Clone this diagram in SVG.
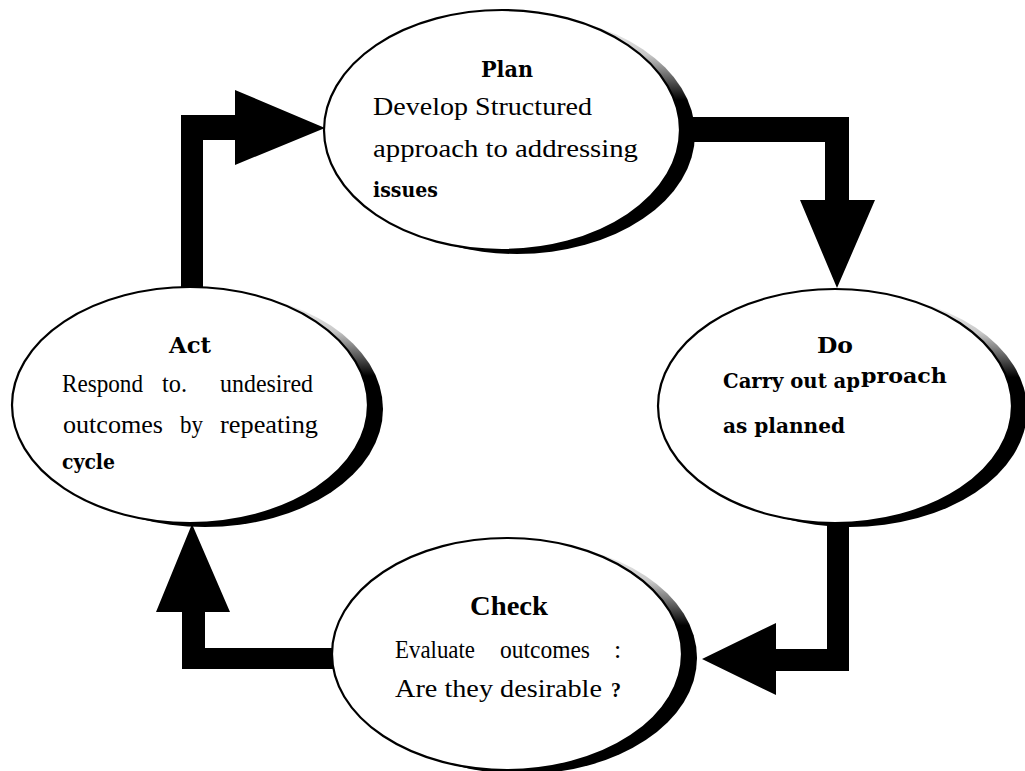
<svg xmlns="http://www.w3.org/2000/svg" width="1025" height="771" viewBox="0 0 1025 771">
<defs>
<linearGradient id="shade" x1="0" y1="0" x2="0" y2="1">
<stop offset="0" stop-color="#ffffff"/>
<stop offset="0.17" stop-color="#c8c8c8"/>
<stop offset="0.36" stop-color="#000000"/>
<stop offset="1" stop-color="#000000"/>
</linearGradient>
<style>
.bubble{fill:#fff;stroke:#000;stroke-width:2.2}
.shadow{fill:url(#shade)}
.arrow{fill:#000}
.title{font-family:"DejaVu Serif","Liberation Serif",serif;font-weight:bold;font-size:22px;fill:#000;text-anchor:middle}
.ttl2{font-family:"Liberation Serif",serif;font-weight:bold;font-size:27px;fill:#000;text-anchor:middle}
.body{font-family:"Liberation Serif",serif;font-size:26px;fill:#000}
.bodyb{font-family:"DejaVu Serif","Liberation Serif",serif;font-weight:bold;font-size:20px;fill:#000}
</style>
</defs>
<rect width="1025" height="771" fill="#fff"/>
<g id="connectors">
<path class="arrow" d="M181,290 V115 H235 V90 L325,128 L235,165 V140 H203 V290 Z"/>
<path class="arrow" d="M680,117 H849 V200 H875 L837,288 L800,200 H825 V142 H680 Z"/>
<path class="arrow" d="M827,515 V649 H776 V623 L702,659 L776,695 V671 H849 V515 Z"/>
<path class="arrow" d="M340,648 H205 V612 H230 L192,524 L156,612 H182 V669 H340 Z"/>
</g>
<g id="plan">
<ellipse class="shadow" cx="517" cy="134" rx="178" ry="120"/>
<ellipse class="bubble" cx="502" cy="130" rx="178" ry="120"/>
<text class="title" x="507" y="77" textLength="52" lengthAdjust="spacingAndGlyphs">Plan</text>
<text class="body" x="373" y="115" textLength="219" lengthAdjust="spacingAndGlyphs">Develop  Structured</text>
<text class="body" x="373" y="157" textLength="265" lengthAdjust="spacingAndGlyphs">approach to addressing</text>
<text class="bodyb" x="373" y="197" textLength="65" lengthAdjust="spacingAndGlyphs">issues</text>
</g>
<g id="do">
<ellipse class="shadow" cx="850" cy="410" rx="177" ry="117"/>
<ellipse class="bubble" cx="835" cy="406" rx="177" ry="117"/>
<text class="title" x="835" y="353" textLength="36" lengthAdjust="spacingAndGlyphs">Do</text>
<text class="bodyb" x="723" y="388"><tspan textLength="137" lengthAdjust="spacingAndGlyphs">Carry out ap</tspan><tspan x="861" y="383" textLength="86" lengthAdjust="spacingAndGlyphs">proach</tspan></text>
<text class="bodyb" x="723" y="433" textLength="122" lengthAdjust="spacingAndGlyphs">as planned</text>
</g>
<g id="check">
<ellipse class="shadow" cx="522" cy="658" rx="175" ry="116"/>
<ellipse class="bubble" cx="507" cy="654" rx="175" ry="116"/>
<text class="ttl2" x="509" y="615" textLength="78" lengthAdjust="spacingAndGlyphs">Check</text>
<text class="body" y="658"><tspan x="395" textLength="80" lengthAdjust="spacingAndGlyphs">Evaluate</tspan> <tspan x="500" textLength="90" lengthAdjust="spacingAndGlyphs">outcomes</tspan> <tspan x="614">:</tspan></text>
<text class="body" y="697"><tspan x="395" textLength="207" lengthAdjust="spacingAndGlyphs">Are they desirable</tspan> <tspan x="611" font-weight="bold" font-size="20">?</tspan></text>
</g>
<g id="act">
<ellipse class="shadow" cx="205" cy="409" rx="178" ry="118"/>
<ellipse class="bubble" cx="190" cy="405" rx="178" ry="118"/>
<text class="title" x="190" y="353" textLength="42" lengthAdjust="spacingAndGlyphs">Act</text>
<text class="body" y="392" font-size="24"><tspan x="62" textLength="81" lengthAdjust="spacingAndGlyphs">Respond</tspan> <tspan x="162" textLength="25" lengthAdjust="spacingAndGlyphs">to.</tspan> <tspan x="220" textLength="93" lengthAdjust="spacingAndGlyphs">undesired</tspan></text>
<text class="body" y="433" font-size="24"><tspan x="63" textLength="100" lengthAdjust="spacingAndGlyphs">outcomes</tspan> <tspan x="180" textLength="23" lengthAdjust="spacingAndGlyphs">by</tspan> <tspan x="220" textLength="98" lengthAdjust="spacingAndGlyphs">repeating</tspan></text>
<text class="bodyb" x="62" y="469" textLength="53" lengthAdjust="spacingAndGlyphs">cycle</text>
</g>
</svg>
